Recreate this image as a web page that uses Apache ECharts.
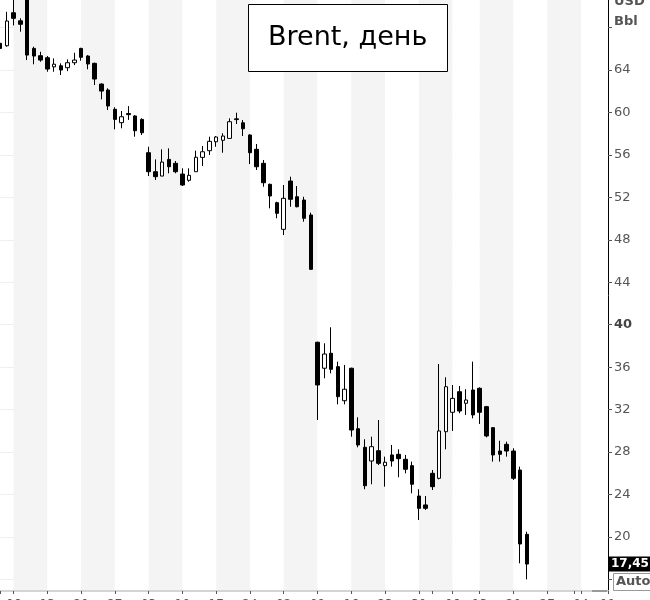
<!DOCTYPE html>
<html>
<head>
<meta charset="utf-8">
<script src="https://cdn.jsdelivr.net/npm/echarts@6/dist/echarts.min.js"></script>
<style>
html,body{margin:0;padding:0;background:#fff;}
#chart{width:650px;height:600px;}
</style>
</head>
<body>
<div id="chart"></div>
<script>
// Trading days (2020), including empty future days shown on the axis
const dates = [
 '2020-01-02','2020-01-03','2020-01-06','2020-01-07','2020-01-08','2020-01-09','2020-01-10',
 '2020-01-13','2020-01-14','2020-01-15','2020-01-16','2020-01-17',
 '2020-01-20','2020-01-21','2020-01-22','2020-01-23','2020-01-24',
 '2020-01-27','2020-01-28','2020-01-29','2020-01-30','2020-01-31',
 '2020-02-03','2020-02-04','2020-02-05','2020-02-06','2020-02-07',
 '2020-02-10','2020-02-11','2020-02-12','2020-02-13','2020-02-14',
 '2020-02-17','2020-02-18','2020-02-19','2020-02-20','2020-02-21',
 '2020-02-24','2020-02-25','2020-02-26','2020-02-27','2020-02-28',
 '2020-03-02','2020-03-03','2020-03-04','2020-03-05','2020-03-06',
 '2020-03-09','2020-03-10','2020-03-11','2020-03-12','2020-03-13',
 '2020-03-16','2020-03-17','2020-03-18','2020-03-19','2020-03-20',
 '2020-03-23','2020-03-24','2020-03-25','2020-03-26','2020-03-27',
 '2020-03-30','2020-03-31','2020-04-01','2020-04-02','2020-04-03',
 '2020-04-06','2020-04-07','2020-04-08','2020-04-09',
 '2020-04-13','2020-04-14','2020-04-15','2020-04-16','2020-04-17',
 '2020-04-20','2020-04-21','2020-04-22','2020-04-23','2020-04-24',
 '2020-04-27','2020-04-28','2020-04-29','2020-04-30','2020-05-01',
 '2020-05-04','2020-05-05','2020-05-06','2020-05-07',
 '2020-05-11'
];

const opens = [
 66.52,66.29,69.40,68.64,71.20,66.04,65.35,65.16,64.30,64.40,64.22,64.69,
 66.04,65.32,64.63,62.68,62.12,60.30,59.04,59.90,59.67,59.35,
 56.21,54.42,54.01,55.58,55.21,54.20,53.61,54.42,55.77,56.40,
 57.24,57.38,57.56,59.40,59.03,57.88,56.53,55.21,53.23,51.50,
 48.99,53.54,52.06,51.75,50.34,
 38.35,35.90,37.31,36.05,32.84,35.90,30.20,28.45,27.16,28.13,
 26.72,27.73,27.79,27.32,26.72,23.86,23.02,26.00,25.53,29.92,
 31.75,33.69,32.60,33.85,34.01,32.28,30.30,28.10,28.73,
 28.10,26.31,20.25
];
const closes = [
 66.04,68.62,68.87,68.31,65.41,65.32,64.94,64.09,64.55,64.00,64.69,64.94,
 65.20,64.57,63.15,62.02,60.61,59.35,59.60,59.80,58.28,58.09,
 54.42,53.95,55.33,54.89,54.42,53.17,54.08,55.78,56.30,57.28,
 57.69,57.78,59.13,59.33,58.47,56.21,54.89,53.38,52.13,50.50,
 51.91,51.82,51.12,50.03,45.22,
 34.32,37.24,35.80,33.22,33.92,30.08,28.67,24.83,28.51,26.94,
 27.04,27.16,27.38,26.38,24.97,22.70,22.70,24.74,29.99,34.16,
 33.06,31.87,32.91,31.50,31.75,29.52,27.73,27.79,28.10,
 25.53,19.34,17.45
];
const lows = [
 65.72,66.20,68.20,67.61,64.94,64.54,64.78,63.84,63.84,63.53,63.90,64.47,
 64.88,64.07,62.59,61.24,60.23,58.41,58.51,59.30,57.72,57.88,
 54.01,53.64,54.00,54.27,54.27,53.07,53.48,54.42,54.96,56.00,
 56.77,56.21,57.56,58.91,57.78,55.14,54.58,53.00,50.97,50.03,
 48.45,51.12,51.06,49.71,45.16,
 31.02,34.95,35.42,32.50,32.50,29.45,28.45,24.50,24.97,26.78,
 24.74,26.63,25.63,26.00,24.12,21.60,22.55,24.43,25.43,28.26,
 29.99,31.66,31.50,31.18,30.65,29.39,27.10,27.10,27.57,
 25.37,17.52,16.00
];
const highs = [
 66.60,69.49,70.90,68.87,71.75,66.20,65.72,65.32,65.10,64.63,65.00,65.63,
 66.10,65.41,64.70,62.75,62.28,60.49,60.14,60.60,59.75,59.45,
 56.77,55.58,56.53,56.62,55.43,54.74,54.74,56.40,56.84,57.72,
 57.78,58.04,59.45,59.98,59.29,57.95,57.03,55.52,53.30,51.59,
 53.17,53.95,53.07,52.06,50.56,
 38.40,38.25,39.76,36.52,36.21,35.95,31.28,29.21,29.45,31.02,
 27.57,28.67,28.26,27.73,27.10,24.50,23.86,26.31,36.30,35.05,
 34.32,34.23,33.92,36.52,34.10,32.35,30.35,29.07,28.98,
 28.36,26.63,20.50
];

const lastPrice = 17.45;
const yGridValues = [16,20,24,28,32,36,40,44,48,52,56,60,64,68];
const yLabelValues = [20,24,28,32,36,40,44,48,52,56,60,64];
const boldLabel = 40;
const titleText = 'Brent, день';
const unitText = 'USD\nBbl';
const autoText = 'Auto';

const candles = dates.map((d, i) =>
  i < opens.length ? [opens[i], closes[i], lows[i], highs[i]] : '-'
);

function dayOf(v) { return new Date(v + 'T00:00:00Z'); }
function isMonday(idx) { return dayOf(dates[idx]).getUTCDay() === 1; }
function isMonthStart(idx) {
  return idx === 0 || dayOf(dates[idx]).getUTCMonth() !== dayOf(dates[idx - 1]).getUTCMonth();
}

const chart = echarts.init(document.getElementById('chart'), null, {renderer: 'canvas'});
chart.setOption({
  animation: false,
  backgroundColor: '#ffffff',
  title: {
    text: titleText,
    left: 248, top: 4,
    padding: [19, 20, 19, 20],
    backgroundColor: '#ffffff',
    borderColor: '#000000',
    borderWidth: 1,
    textStyle: {fontFamily: 'DejaVu Sans', fontSize: 27, fontWeight: 'normal', color: '#000', lineHeight: 30}
  },
  grid: {left: 0, right: 42, top: 0, bottom: 9, containLabel: false, outerBoundsMode: 'none'},
  xAxis: {
    type: 'category',
    data: dates,
    boundaryGap: false,
    axisLine: {show: true, lineStyle: {color: '#d4d4d4', width: 2}},
    axisTick: {show: true, length: 3, lineStyle: {color: '#555'},
      interval: (idx) => isMonday(idx) || isMonthStart(idx)},
    axisLabel: {
      show: true, margin: 8, fontFamily: 'DejaVu Sans', fontSize: 12, color: '#555',
      interval: (idx) => isMonday(idx),
      formatter: (v) => v.slice(8, 10)
    },
    splitLine: {show: false},
    splitArea: {show: true, interval: (idx) => isMonday(idx),
      areaStyle: {color: ['#f4f4f4', '#ffffff']}}
  },
  yAxis: {
    type: 'value',
    position: 'right',
    min: 14.91,
    max: 70.6,
    scale: true,
    axisLine: {show: true, lineStyle: {color: '#000', width: 1}},
    axisTick: {show: true, length: 4, customValues: yGridValues, lineStyle: {color: '#555'}},
    axisLabel: {
      show: true, margin: 6, customValues: yGridValues,
      fontFamily: 'DejaVu Sans', fontSize: 13, color: '#555',
      formatter: (v) => {
        const r = Math.round(v);
        if (Math.abs(v - r) > 1e-6 || yLabelValues.indexOf(r) < 0) return '';
        return r === boldLabel ? '{b|' + r + '}' : String(r);
      },
      rich: {b: {fontFamily: 'DejaVu Sans', fontSize: 13, fontWeight: 'bold', color: '#444'}}
    },
    splitLine: {show: true, lineStyle: {color: '#efefef', width: 1}}
  },
  series: [{
    type: 'candlestick',
    data: candles,
    barWidth: 4,
    clip: true,
    itemStyle: {
      color: '#ffffff', color0: '#000000',
      borderColor: '#000000', borderColor0: '#000000', borderWidth: 1
    },
    markLine: {
      silent: true,
      symbol: ['none', 'none'],
      lineStyle: {color: 'rgba(0,0,0,0)', width: 0},
      label: {
        show: true, position: 'end', distance: 0,
        formatter: () => String(lastPrice).replace('.', ','),
        backgroundColor: '#000', color: '#fff', fontFamily: 'DejaVu Sans',
        fontSize: 12, fontWeight: 'bold', padding: [2, 3, 1, 3]
      },
      data: [{yAxis: lastPrice}]
    }
  }],
  graphic: [
    {type: 'text', left: 614, top: -8, z: 100,
      style: {text: unitText, font: 'bold 13px "DejaVu Sans"', fill: '#555', lineHeight: 20}},
    {type: 'rect', left: 613, top: 573, z: 100,
      shape: {width: 40, height: 17},
      style: {fill: '#fff', stroke: '#999', lineWidth: 1}},
    {type: 'text', left: 616, top: 575, z: 101,
      style: {text: autoText, font: 'bold 13px "DejaVu Sans"', fill: '#555'}},
    {type: 'rect', left: 592, top: 590, z: 100,
      shape: {width: 15, height: 2}, style: {fill: '#999'}}
  ]
});
</script>
</body>
</html>
